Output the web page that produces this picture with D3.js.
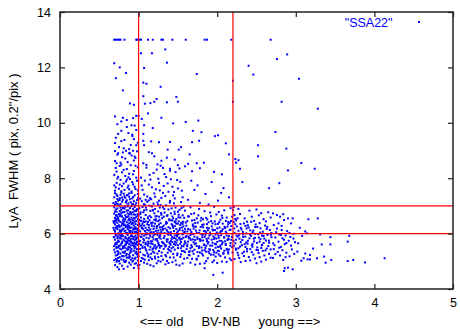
<!DOCTYPE html>
<html>
<head>
<meta charset="utf-8">
<script src="https://cdn.jsdelivr.net/npm/d3@7"></script>
<style>
  body { margin: 0; background: #fff; }
  svg { display: block; }
  text { font-family: "Liberation Sans", Arial, Helvetica, sans-serif; }
</style>
</head>
<body>
<figure id="chart" style="margin:0"></figure>
<script>
// axis ticks and cut lines
const xTicks = [0, 1, 2, 3, 4, 5];
const yTicks = [4, 6, 8, 10, 12, 14];
const cutX = [1, 2.2];
const cutY = [6, 7];
const seriesName = '"SSA22"';

// FWHM values capped at 13 (row along the top)
const cappedX = [0.69,0.71,0.73,0.75,0.77,0.82,0.97,0.98,1.01,1.03,1.12,1.18,1.29,1.31,1.43,1.60,1.84,1.87,2.18,2.68];
const cappedY = 13;

// scattered points above the main cloud
const sparseHigh = [
  [1.03,12.51],[1.17,12.51],[1.34,12.65],[0.69,12.15],[1.36,12.17],[0.76,12.00],[1.07,11.98],[0.84,11.80],[1.74,11.76],[2.40,12.06],
  [2.46,11.74],[2.76,12.30],[0.71,11.61],[1.06,11.45],[1.10,11.41],[2.20,11.52],[0.80,11.17],[1.28,11.30],[1.06,10.96],[1.48,10.93],
  [1.23,10.86],[1.50,10.76],[1.20,10.76],[1.15,10.71],[1.36,10.74],[1.08,10.69],[0.89,10.70],[0.94,10.65],[2.20,10.76],[2.89,12.47],
  [3.04,11.59],[2.82,10.76],[3.28,10.51],[1.12,10.34],[0.70,10.23],[0.80,10.18],[0.93,10.17],[0.97,10.25],[1.00,10.25],[1.04,10.14],
  [1.29,10.18],[1.44,9.98],[1.60,10.03],[1.76,10.08],[0.85,10.10],[0.78,10.05],[0.91,9.91],[1.07,9.91],[1.18,9.81],[1.69,9.71],
  [1.80,9.66],[1.97,9.52],[2.01,9.55],[0.74,9.60],[0.92,9.57],[1.06,9.60],[1.06,9.35],[1.16,9.33],[1.26,9.30],[1.40,9.31],
  [1.68,9.30],[1.77,9.35],[2.11,9.26],[2.52,9.19],[0.70,9.27],[0.78,9.34],[0.90,9.20],[0.97,9.19],[1.07,9.19],[1.13,8.94],
  [1.37,9.03],[1.51,9.03],[1.54,9.12],[1.65,8.86],[2.15,8.86],[2.52,8.79],[0.70,8.98],[0.74,8.90],[0.89,8.90],[0.93,8.99],
  [0.95,8.78],[1.17,8.90],[1.20,8.79],[1.36,8.74],[1.46,8.67],[1.29,8.63],[1.74,8.54],[1.83,8.56],[2.23,8.69],[2.27,8.65],
  [2.24,8.56],[1.06,8.54],[1.10,8.48],[1.24,8.50],[1.31,8.37],[1.40,8.34],[1.50,8.47],[1.63,8.52],[1.68,8.25],[1.78,8.36],
  [1.96,8.23],[2.06,8.14],[2.29,8.34],[2.32,7.86],[2.66,7.64],[2.74,9.67],[2.88,9.07],[3.07,8.55],[2.90,8.28],[3.24,8.34],
  [2.79,7.82]
];

// old side, left of x = 1
const leftCore = [
  [0.70,7.55],[0.72,7.83],[0.75,7.62],[0.77,7.94],[0.79,7.71],[0.82,7.58],[0.84,7.88],[0.86,7.66],[0.89,7.97],[0.91,7.52],
  [0.93,7.78],[0.96,7.61],[0.98,7.91],[0.69,7.74],[0.73,7.99],[0.78,7.53],[0.81,7.81],[0.85,7.95],[0.88,7.60],[0.92,7.86],
  [0.95,7.69],[0.99,7.56],[0.71,7.67],[0.76,7.77],[0.87,7.73],
  [0.69,8.12],[0.71,8.37],[0.74,8.05],[0.76,8.44],[0.79,8.21],[0.83,8.08],[0.85,8.33],[0.88,8.16],[0.90,8.47],[0.94,8.26],
  [0.97,8.02],[0.99,8.39],[0.72,8.24],[0.78,8.49],[0.81,8.30],[0.87,8.03],[0.93,8.14],[0.96,8.45],
  [0.70,8.62],[0.73,8.85],[0.77,8.56],[0.80,8.93],[0.83,8.71],[0.86,8.58],[0.91,8.82],[0.94,8.64],[0.98,8.97],[0.72,8.54],
  [0.79,8.76],[0.88,8.90],[0.96,8.73],[0.84,8.99],
  [0.71,9.46],[0.75,9.12],[0.78,9.71],[0.82,9.38],[0.85,9.85],[0.88,9.05],[0.92,9.52],[0.95,9.90],[0.99,9.28],[0.73,9.95],
  [0.81,9.08],[0.87,9.63],[0.94,9.41],[0.97,9.74],
  [0.70,4.86],[0.73,4.79],[0.76,4.92],[0.79,4.84],[0.83,4.97],[0.86,4.81],[0.90,4.88],[0.94,4.76],[0.97,4.93],[0.72,4.98],
  [0.81,4.73],[0.88,4.95],[0.99,4.85],[0.75,4.71],[0.92,4.99],[1.00,4.75],
  [0.69,5.04],[0.71,5.21],[0.73,5.37],[0.74,5.12],[0.76,5.46],[0.77,5.28],[0.78,5.07],[0.80,5.33],[0.81,5.18],[0.82,5.49],
  [0.84,5.02],[0.85,5.26],[0.86,5.41],[0.87,5.14],[0.89,5.31],[0.90,5.06],[0.91,5.45],[0.93,5.22],[0.94,5.38],[0.95,5.09],
  [0.96,5.29],[0.98,5.44],[0.99,5.16],[0.70,5.32],[0.72,5.48],[0.75,5.01],[0.79,5.19],[0.83,5.36],[0.88,5.24],[0.92,5.11],
  [0.97,5.35],[0.69,5.42],[0.74,5.27],[0.78,5.43],[0.81,5.05],[0.85,5.13],[0.90,5.39],[0.95,5.47],[0.99,5.03],[0.71,5.09],
  [0.76,5.15],[0.80,5.47],[0.84,5.21],[0.87,5.44],[0.93,5.02],[0.96,5.13],[0.73,5.23],[0.82,5.30],[0.89,5.17],[0.98,5.25],
  [0.69,5.55],[0.70,5.78],[0.71,5.93],[0.72,5.62],[0.73,5.84],[0.74,5.51],[0.75,5.71],[0.76,5.96],[0.77,5.58],[0.78,5.82],
  [0.79,5.67],[0.80,5.91],[0.81,5.53],[0.82,5.74],[0.83,5.88],[0.84,5.61],[0.85,5.99],[0.86,5.69],[0.87,5.52],[0.88,5.86],
  [0.89,5.73],[0.90,5.57],[0.91,5.94],[0.92,5.65],[0.93,5.81],[0.94,5.54],[0.95,5.77],[0.96,5.92],[0.97,5.63],[0.98,5.85],
  [0.99,5.59],[1.00,5.72],[0.69,5.87],[0.71,5.66],[0.72,5.97],[0.74,5.75],[0.75,5.56],[0.77,5.89],[0.78,5.64],[0.80,5.53],
  [0.81,5.79],[0.83,5.60],[0.84,5.83],[0.86,5.95],[0.87,5.76],[0.89,5.50],[0.90,5.80],[0.92,5.90],[0.93,5.58],[0.95,5.68],
  [0.96,5.51],[0.98,5.70],[0.99,5.97],[0.70,5.61],[0.73,5.69],[0.76,5.83],[0.79,5.98],[0.82,5.55],[0.85,5.66],[0.88,5.62],
  [0.91,5.71],[0.94,5.87],[0.97,5.79],[0.72,5.52],[0.78,5.93],[0.84,5.70],[0.90,5.68],[0.96,5.60],[0.74,5.90],[0.87,5.84],
  [0.86,6.02],[0.70,6.09],[0.93,6.14],[0.77,6.05],[0.99,6.31],[0.72,6.26],[0.81,6.19],[0.95,6.43],[0.69,6.38],[0.88,6.27],
  [0.75,6.46],[0.83,6.11],[0.97,6.07],[0.79,6.35],[0.91,6.22],[0.73,6.16],[0.85,6.41],[0.68,6.21],[0.94,6.29],[0.80,6.48],
  [0.76,6.12],[0.89,6.04],[0.71,6.44],[0.98,6.18],[0.84,6.24],[0.92,6.36],[0.74,6.01],[0.87,6.15],[1.00,6.40],[0.78,6.28],
  [0.70,6.33],[0.96,6.23],[0.82,6.45],[0.90,6.10],[0.73,6.39],[0.86,6.32],[0.69,6.13],[0.95,6.06],[0.80,6.17],[0.77,6.42],
  [0.93,6.47],[0.84,6.03],[0.71,6.20],[0.88,6.37],[0.99,6.12],[0.75,6.30],[0.82,6.08],[0.91,6.34],[0.97,6.45],[0.79,6.14],
  [0.72,6.49],[0.85,6.26],[0.94,6.19],[0.68,6.44],[0.87,6.48],[0.76,6.23],[0.90,6.42],[0.81,6.36],[0.98,6.02],[0.74,6.27],
  [0.96,6.35],[0.70,6.01],[0.83,6.30],[0.89,6.21],[0.92,6.05],[0.78,6.09],[0.86,6.18],[0.73,6.25],[0.95,6.16],[0.80,6.40],
  [0.74,6.53],[0.91,6.58],[0.69,6.72],[0.83,6.66],[0.97,6.81],[0.77,6.94],[0.88,6.55],[0.71,6.87],[0.94,6.69],[0.80,6.77],
  [0.86,6.98],[0.73,6.61],[0.99,6.52],[0.82,6.90],[0.90,6.74],[0.76,6.64],[0.95,6.96],[0.70,6.57],[0.85,6.83],[0.92,6.51],
  [0.78,6.86],[0.87,6.63],[0.72,6.79],[0.96,6.68],[0.81,6.55],[0.89,6.92],[0.75,6.71],[0.98,6.88],[0.84,6.59],[0.69,6.95],
  [0.93,6.77],[0.79,6.62],[0.87,6.84],[0.72,6.67],[0.95,6.54],[0.83,6.97],[0.76,6.81],[0.91,6.69],[0.70,6.80],[0.97,6.60],
  [0.86,6.73],[0.80,6.93],[0.74,6.56],[0.89,6.50],[0.93,6.89],[0.78,6.75],[0.99,6.65],[0.82,6.78],[0.71,6.52],[0.88,6.70],
  [0.95,6.82],[0.85,6.60],[0.73,6.91],[0.77,6.68],[0.91,6.99],
  [0.70,7.04],[0.84,7.12],[0.76,7.28],[0.93,7.07],[0.72,7.41],[0.88,7.33],[0.98,7.21],[0.79,7.15],[0.91,7.47],[0.74,7.19],
  [0.86,7.02],[0.69,7.31],[0.95,7.38],[0.81,7.44],[0.77,7.06],[0.89,7.24],[0.73,7.36],[0.97,7.11],[0.83,7.29],[0.71,7.14],
  [0.92,7.27],[0.78,7.48],[0.86,7.39],[0.75,7.01],[0.99,7.43],[0.80,7.22],[0.94,7.17],[0.70,7.46],[0.87,7.09],[0.82,7.35],
  [0.96,7.03],[0.73,7.25],[0.90,7.13],[0.77,7.40],[0.85,7.20],[0.68,7.10],[0.93,7.32],[0.79,7.30],[0.72,7.08],[0.88,7.45]
];

// between x = 1 and 1.6
const midCore = [
  [1.02,7.26],[1.05,7.58],[1.08,7.91],[1.11,7.34],[1.14,8.12],[1.17,7.67],[1.20,7.45],[1.23,8.31],[1.26,7.83],[1.29,7.29],
  [1.32,7.72],[1.35,8.04],[1.38,7.51],[1.41,7.96],[1.44,7.38],[1.47,8.22],[1.50,7.63],[1.53,7.87],[1.56,7.31],[1.59,8.43],
  [1.03,8.02],[1.07,7.41],[1.10,8.38],[1.13,7.77],[1.16,7.24],[1.19,8.19],[1.22,7.60],[1.25,7.98],[1.28,8.45],[1.31,7.47],
  [1.34,7.36],[1.37,7.81],[1.40,8.27],[1.43,7.69],[1.46,7.27],[1.49,7.93],[1.52,8.35],[1.55,7.55],[1.04,7.74],[1.09,7.22],
  [1.15,7.95],[1.21,7.33],[1.27,7.56],[1.33,8.15],[1.45,7.50],
  [1.01,4.87],[1.04,5.12],[1.07,4.95],[1.10,5.38],[1.13,5.04],[1.16,5.27],[1.19,4.82],[1.22,5.46],[1.25,5.15],[1.28,4.99],
  [1.02,5.33],[1.05,5.48],[1.08,5.21],[1.11,4.91],[1.14,5.42],[1.17,5.08],[1.20,5.31],[1.23,4.93],[1.26,5.37],[1.29,5.19],
  [1.03,5.01],[1.06,5.24],[1.09,5.44],[1.12,5.17],[1.15,4.86],[1.18,5.35],[1.21,5.10],[1.24,5.28],[1.27,5.49],[1.00,5.19],
  [1.11,5.29],[1.19,5.47],[1.08,5.06],[1.25,5.02],[1.15,5.14],
  [1.01,5.63],[1.03,5.88],[1.05,5.54],[1.07,5.76],[1.09,5.97],[1.11,5.61],[1.13,5.83],[1.15,5.52],[1.17,5.72],[1.19,5.94],
  [1.21,5.58],[1.23,5.80],[1.25,5.66],[1.27,5.91],[1.29,5.55],[1.02,5.74],[1.04,5.99],[1.06,5.68],[1.08,5.51],[1.10,5.85],
  [1.12,5.71],[1.14,5.96],[1.16,5.64],[1.18,5.87],[1.20,5.53],[1.22,5.78],[1.24,5.95],[1.26,5.60],[1.28,5.82],[1.30,5.70],
  [1.00,5.92],[1.06,5.81],[1.12,5.57],[1.18,5.62],[1.24,5.73],[1.09,5.67],[1.15,5.90],[1.21,5.98],[1.27,5.56],[1.03,5.59],
  [1.13,5.65],[1.19,5.79],[1.26,5.86],[1.07,5.93],[1.23,5.51],
  [1.02,6.08],[1.13,6.31],[1.24,6.02],[1.06,6.44],[1.19,6.17],[1.28,6.38],[1.09,6.21],[1.16,6.05],[1.01,6.35],[1.22,6.47],
  [1.11,6.13],[1.27,6.23],[1.04,6.19],[1.18,6.40],[1.25,6.11],[1.07,6.29],[1.14,6.48],[1.29,6.06],[1.03,6.46],[1.20,6.26],
  [1.10,6.03],[1.26,6.33],[1.15,6.15],[1.05,6.37],[1.23,6.20],[1.12,6.42],[1.00,6.12],[1.17,6.28],[1.08,6.09],[1.21,6.36],
  [1.30,6.24],[1.02,6.27],[1.14,6.01],[1.25,6.45],[1.06,6.16],[1.19,6.04],[1.11,6.34],[1.28,6.14],[1.04,6.30],[1.22,6.10],
  [1.16,6.39],[1.09,6.44],[1.27,6.01],[1.13,6.22],[1.01,6.49],
  [1.03,6.58],[1.15,6.82],[1.26,6.61],[1.08,7.04],[1.20,6.73],[1.01,6.91],[1.12,6.55],[1.24,7.12],[1.06,6.77],[1.17,6.98],
  [1.29,6.68],[1.10,6.86],[1.22,6.52],[1.04,7.17],[1.14,6.64],[1.27,6.94],[1.07,6.53],[1.19,7.08],[1.02,6.71],[1.25,6.80],
  [1.11,7.15],[1.16,6.59],[1.28,7.03],[1.09,6.67],[1.21,6.89],[1.05,6.96],[1.13,7.20],[1.23,6.63],[1.18,6.85],[1.00,6.66],
  [1.26,7.19],[1.07,6.84],[1.30,6.56],[1.14,7.01],[1.20,6.50],
  [1.31,5.06],[1.34,4.89],[1.37,5.31],[1.40,5.14],[1.43,4.97],[1.46,5.42],[1.49,5.22],[1.52,4.85],[1.55,5.37],[1.58,5.09],
  [1.32,5.45],[1.35,5.18],[1.38,4.94],[1.41,5.36],[1.44,5.27],[1.47,5.03],[1.50,5.48],[1.53,5.16],[1.56,4.92],[1.59,5.33],
  [1.36,5.01],[1.42,5.47],[1.48,4.88],[1.54,5.25],[1.39,5.40],
  [1.31,5.66],[1.33,5.91],[1.35,5.57],[1.37,5.79],[1.39,5.52],[1.41,5.95],[1.43,5.69],[1.45,5.84],[1.47,5.59],[1.49,5.76],
  [1.51,5.98],[1.53,5.63],[1.55,5.81],[1.57,5.54],[1.59,5.72],[1.32,5.84],[1.34,5.53],[1.36,5.71],[1.38,5.96],[1.40,5.64],
  [1.42,5.80],[1.44,5.51],[1.46,5.93],[1.48,5.67],[1.50,5.58],[1.52,5.86],[1.54,5.70],[1.56,5.97],[1.58,5.61],[1.60,5.88],
  [1.33,5.60],[1.37,5.99],[1.41,5.73],[1.45,5.62],[1.49,5.90],[1.53,5.78],[1.57,5.85],[1.39,5.68],[1.47,5.82],[1.55,5.55],
  [1.31,6.14],[1.36,6.38],[1.41,6.05],[1.46,6.27],[1.51,6.44],[1.56,6.11],[1.33,6.02],[1.38,6.23],[1.43,6.47],[1.48,6.16],
  [1.53,6.31],[1.58,6.04],[1.35,6.42],[1.40,6.19],[1.45,6.09],[1.50,6.36],[1.55,6.22],[1.60,6.40],[1.32,6.29],[1.37,6.07],
  [1.42,6.34],[1.47,6.45],[1.52,6.13],[1.57,6.26],[1.34,6.18],[1.39,6.48],[1.44,6.21],[1.49,6.03],[1.54,6.39],[1.59,6.17],
  [1.36,6.12],[1.43,6.30],[1.50,6.08],[1.46,6.41],[1.56,6.35],
  [1.32,6.61],[1.38,6.87],[1.44,6.55],[1.50,6.79],[1.56,6.66],[1.35,7.02],[1.41,6.73],[1.47,6.94],[1.53,6.58],[1.59,6.83],
  [1.33,6.76],[1.39,6.52],[1.45,7.09],[1.51,6.68],[1.57,6.97],[1.36,6.64],[1.42,6.91],[1.48,6.53],[1.54,7.14],[1.31,6.95],
  [1.40,7.18],[1.46,6.71],[1.52,6.86],[1.58,6.57],[1.43,6.62]
];

// between x = 1.6 and 2.2
const rightCore = [
  [1.62,5.12],[1.66,4.95],[1.70,5.27],[1.74,5.06],[1.78,4.91],[1.82,5.21],[1.86,5.01],[1.90,5.29],[1.94,4.97],[1.98,5.17],
  [2.02,5.25],[2.06,4.99],[2.10,5.14],[2.14,5.28],[2.18,5.04],[1.64,5.23],[1.68,5.09],[1.72,4.88],[1.76,5.19],[1.84,4.93],
  [1.88,5.11],[1.92,5.24],[1.96,5.03],[2.00,4.94],[2.04,5.19],[2.08,5.27],[2.12,4.98],[2.16,5.10],[1.95,4.51],[2.07,4.59],
  [1.84,4.75],
  [1.61,5.44],[1.63,5.71],[1.65,5.36],[1.67,5.58],[1.69,5.79],[1.71,5.42],[1.73,5.65],[1.75,5.33],[1.77,5.54],[1.79,5.76],
  [1.81,5.39],[1.83,5.61],[1.85,5.48],[1.87,5.73],[1.89,5.35],[1.91,5.57],[1.93,5.78],[1.95,5.41],[1.97,5.63],[1.99,5.31],
  [2.01,5.52],[2.03,5.74],[2.05,5.46],[2.07,5.68],[2.09,5.38],[2.11,5.59],[2.13,5.77],[2.15,5.43],[2.17,5.66],[2.19,5.51],
  [1.62,5.60],[1.66,5.47],[1.70,5.69],[1.74,5.55],[1.78,5.32],[1.82,5.75],[1.86,5.56],[1.90,5.44],[1.94,5.67],[1.98,5.49],
  [2.02,5.37],[2.06,5.62],[2.10,5.72],[2.14,5.34],[2.18,5.78],[1.64,5.34],[1.72,5.77],[1.80,5.50],[1.88,5.64],[1.96,5.33],
  [2.04,5.57],[2.12,5.45],[1.68,5.52],[1.84,5.40],[2.00,5.70],
  [1.61,5.92],[1.63,6.17],[1.65,5.84],[1.67,6.06],[1.69,6.27],[1.71,5.89],[1.73,6.11],[1.75,5.81],[1.77,6.02],[1.79,6.24],
  [1.81,5.87],[1.83,6.09],[1.85,5.96],[1.87,6.21],[1.89,5.83],[1.91,6.04],[1.93,6.26],[1.95,5.90],[1.97,6.13],[1.99,5.82],
  [2.01,6.00],[2.03,6.22],[2.05,5.94],[2.07,6.16],[2.09,5.86],[2.11,6.07],[2.13,6.25],[2.15,5.91],[2.17,6.14],[2.19,5.99],
  [1.62,6.08],[1.66,5.95],[1.70,6.18],[1.74,6.03],[1.78,5.80],[1.82,6.23],[1.86,6.04],[1.90,5.93],[1.94,6.15],[1.98,5.97],
  [2.02,5.85],[2.06,6.10],[2.10,6.20],[2.14,5.82],[2.18,6.27],[1.64,5.83],[1.72,6.25],[1.80,5.98],[1.88,6.12],[1.96,5.81],
  [2.04,6.05],[2.12,5.93],[1.68,6.00],[1.84,5.88],[2.00,6.19],
  [1.62,6.45],[1.67,6.71],[1.72,6.38],[1.77,6.89],[1.82,6.52],[1.87,6.34],[1.92,6.63],[1.97,6.44],[2.02,6.78],[2.07,6.36],
  [2.12,6.58],[2.17,6.92],[1.64,6.62],[1.69,6.33],[1.74,6.55],[1.79,6.47],[1.84,6.81],[1.89,6.41],[1.94,6.37],[1.99,6.69],
  [2.04,6.50],[2.09,6.84],[2.14,6.42],[2.19,6.61],[1.66,6.95],[1.76,6.66],[1.86,6.57],[1.96,6.97],[2.06,6.65],[2.16,6.39],
  [1.71,6.49],[1.81,6.31],[1.91,6.76],[2.01,6.35],[2.11,6.46],
  [1.63,7.22],[1.71,7.58],[1.78,7.11],[1.85,7.43],[1.93,7.86],[2.01,7.19],[2.08,7.64],[2.15,7.31],[1.67,7.91],[1.89,7.05],
  [2.05,7.47],[1.75,7.74],[2.21,6.42],[2.22,6.67],[2.20,6.85],[2.23,6.53],[2.21,6.96]
];

// young side, x = 2.2 to 3
const outerCore = [
  [2.22,5.08],[2.26,5.31],[2.30,4.97],[2.34,5.19],[2.38,5.36],[2.42,5.03],[2.46,5.24],[2.50,4.93],[2.54,5.15],[2.58,5.38],
  [2.62,5.06],[2.66,5.27],[2.24,5.42],[2.28,5.12],[2.32,5.29],[2.36,5.01],[2.44,5.33],[2.48,5.10],[2.52,5.40],[2.56,4.99],
  [2.60,5.21],[2.68,5.13],
  [2.21,5.56],[2.24,5.78],[2.27,5.47],[2.30,5.69],[2.33,5.88],[2.36,5.52],[2.39,5.74],[2.42,5.44],[2.45,5.63],[2.48,5.85],
  [2.51,5.50],[2.54,5.71],[2.57,5.59],[2.60,5.82],[2.63,5.46],[2.66,5.67],[2.69,5.87],[2.23,5.65],[2.26,5.89],[2.29,5.53],
  [2.32,5.77],[2.35,5.62],[2.38,5.45],[2.41,5.83],[2.44,5.58],[2.47,5.72],[2.50,5.41],[2.53,5.86],[2.56,5.48],[2.59,5.66],
  [2.62,5.75],[2.65,5.55],[2.68,5.43],[2.37,5.68],[2.55,5.80],
  [2.22,6.03],[2.25,6.26],[2.28,5.94],[2.31,6.15],[2.34,6.37],[2.37,6.01],[2.40,6.22],[2.43,5.92],[2.46,6.11],[2.49,6.33],
  [2.52,5.98],[2.55,6.19],[2.58,6.07],[2.61,6.29],[2.64,5.95],[2.67,6.13],[2.23,6.34],[2.27,6.10],[2.33,5.97],[2.39,6.30],
  [2.45,6.05],[2.51,6.24],[2.57,5.93],[2.63,6.17],[2.69,6.02],[2.30,6.21],[2.42,6.12],[2.54,6.38],[2.36,6.28],[2.48,5.99],
  [2.24,6.48],[2.29,6.71],[2.35,6.55],[2.41,6.83],[2.47,6.46],[2.53,6.66],[2.59,6.52],[2.65,6.77],[2.27,6.89],[2.38,6.43],
  [2.44,6.61],[2.50,6.87],[2.56,6.74],[2.62,6.44],[2.68,6.58],
  [2.71,6.73],[2.76,6.67],[2.80,6.61],[2.84,6.70],[2.85,6.49],[2.90,6.55],[2.94,6.37],[2.96,6.55],[2.72,6.31],[2.78,6.37],
  [2.82,6.28],[2.86,4.75],[2.90,4.77],[2.96,4.71],[2.85,4.65],[2.95,5.43],[2.71,5.12],[2.73,5.58],[2.74,5.86],[2.75,6.05],
  [2.77,5.34],[2.78,5.71],[2.79,5.97],[2.80,5.21],[2.81,5.52],[2.82,6.13],[2.83,5.83],[2.84,5.05],[2.86,5.62],[2.87,5.93],
  [2.88,5.31],[2.89,6.09],[2.91,5.74],[2.92,5.18],[2.93,5.88],[2.94,5.57],[2.97,5.99],[2.98,5.27],[2.99,5.69],[2.72,5.44],
  [2.76,6.18],[2.81,5.95],[2.85,5.78],[2.88,5.66],[2.92,6.02],[2.97,5.82],[2.74,5.26],[2.79,5.49],[2.83,5.40],[2.87,5.15]
];

// more points inside the dense cloud, read finer
const cloudFill = [
  [0.684,5.873],[0.713,6.652],[0.742,5.338],[0.758,7.212],[0.763,6.087],[0.791,5.714],[0.806,6.932],[0.817,4.987],[0.829,6.513],[0.847,5.462],
  [0.853,7.384],[0.869,6.247],[0.878,5.128],[0.896,6.781],[0.904,5.903],[0.917,7.058],[0.926,6.379],[0.938,5.641],[0.951,4.912],[0.962,6.174],
  [0.973,6.853],[0.985,5.287],[0.993,7.296],[0.697,6.458],[0.726,5.044],[0.734,7.071],[0.781,6.619],[0.799,5.186],[0.812,6.305],[0.838,7.149],
  [0.861,5.767],[0.883,6.092],[0.909,5.351],[0.944,6.566],[0.967,5.826],[0.989,6.704],
  [1.018,5.447],[1.027,6.768],[1.039,5.892],[1.046,6.214],[1.058,5.091],[1.066,7.063],[1.074,6.417],[1.087,5.613],[1.093,6.941],[1.105,5.978],
  [1.118,6.583],[1.126,5.234],[1.134,6.112],[1.147,7.282],[1.153,5.721],[1.164,6.356],[1.176,5.436],[1.183,6.834],[1.192,6.047],[1.207,5.169],
  [1.214,6.622],[1.228,5.805],[1.236,6.273],[1.247,7.041],[1.253,5.573],[1.266,6.498],[1.274,5.937],[1.287,6.741],[1.294,5.318],
  [1.308,6.173],[1.317,5.659],[1.326,6.892],[1.341,5.227],[1.349,6.354],[1.357,5.781],[1.368,6.663],[1.376,5.442],[1.384,6.027],[1.397,7.117],
  [1.408,5.596],[1.416,6.481],[1.427,5.874],[1.438,6.236],[1.446,5.138],[1.457,6.793],[1.463,5.709],[1.478,6.362],[1.486,5.951],[1.494,5.284],
  [1.507,6.587],[1.516,5.827],[1.524,6.193],[1.537,5.472],[1.545,6.918],[1.558,5.996],[1.566,6.427],[1.574,5.366],[1.588,6.071],[1.596,5.663],
  [1.607,6.286],[1.618,5.543],[1.629,6.624],[1.636,5.892],[1.648,5.217],[1.657,6.139],[1.664,5.776],[1.679,6.472],[1.686,5.361],[1.697,5.984],
  [1.706,6.731],[1.714,5.617],[1.727,6.248],[1.738,5.093],[1.746,5.862],[1.753,6.395],[1.768,5.483],[1.776,6.117],[1.784,5.739],[1.797,6.568],
  [1.806,5.276],[1.813,5.951],[1.828,6.334],[1.836,5.582],[1.847,6.083],[1.859,5.347],[1.866,5.808],[1.874,6.512],[1.887,5.694],[1.893,6.191],
  [1.908,5.416],[1.916,5.974],[1.924,6.452],[1.937,5.563],[1.946,6.116],[1.953,5.238],[1.967,5.857],[1.978,6.336],[1.986,5.611],[1.994,6.043],
  [2.009,5.381],[2.017,5.922],[2.026,6.412],[2.038,5.524],[2.047,6.084],[2.054,5.735],[2.066,6.567],[2.078,5.296],[2.086,5.864],[2.094,6.247],
  [2.107,5.621],[2.116,6.021],[2.124,5.418],[2.139,6.336],[2.146,5.795],[2.158,6.132],[2.167,5.567],[2.176,6.455],[2.188,5.882],[2.196,5.311],
  [2.207,5.734],[2.218,6.186],[2.236,5.462],[2.247,5.927],[2.259,6.552],[2.268,5.218],[2.283,5.817],[2.296,6.344],[2.314,5.583],[2.327,6.061],
  [2.343,5.347],[2.358,5.892],[2.374,6.187],[2.387,5.636],[2.403,5.153],[2.418,5.964],[2.433,6.427],[2.449,5.527],[2.466,5.816],[2.484,6.238],
  [2.507,5.664],[2.526,5.298],[2.547,6.036],[2.568,5.576],[2.589,5.912],[2.614,5.393],[2.637,6.242],[2.658,5.745],[2.683,5.958],[2.712,5.647]
];

// beyond x = 3
const tail = [
  [3.16,6.52],[3.28,6.55],[3.12,6.08],[3.14,6.01],[3.31,5.97],[3.68,5.92],[3.08,5.92],[3.44,5.87],[3.66,5.71],[3.44,5.61],
  [3.33,5.61],[3.03,5.65],[3.22,5.46],[3.12,5.28],[3.18,5.23],[3.10,5.11],[3.15,5.07],[3.18,5.07],[3.27,5.11],[3.36,5.17],
  [3.38,4.95],[3.45,5.05],[3.66,5.01],[3.73,5.05],[3.88,4.96],[4.13,5.11],[3.05,6.21],[3.02,5.35],[3.07,5.02]
];

const points = cappedX.map(v => [v, cappedY])
  .concat(sparseHigh, leftCore, midCore, rightCore, outerCore, cloudFill, tail);

const width = 460, height = 329;
const margin = {top: 12, right: 7, bottom: 40, left: 60};
const innerW = width - margin.left - margin.right;
const innerH = height - margin.top - margin.bottom;

const svg = d3.select("figure#chart")
  .append("svg")
  .attr("width", width)
  .attr("height", height);

const g = svg.append("g")
  .attr("transform", `translate(${margin.left},${margin.top})`);

const x = d3.scaleLinear().domain([0, 5]).range([0, innerW]);
const y = d3.scaleLinear().domain([4, 14]).range([innerH, 0]);

// points
g.append("g")
  .selectAll("rect")
  .data(points)
  .enter()
  .append("rect")
  .attr("x", d => x(d[0]) - 1)
  .attr("y", d => y(d[1]) - 1)
  .attr("width", 2)
  .attr("height", 2)
  .attr("fill", "#0000ff");

// cut lines
g.append("g")
  .selectAll("line")
  .data(cutX)
  .enter()
  .append("line")
  .attr("x1", d => x(d)).attr("x2", d => x(d))
  .attr("y1", 0).attr("y2", innerH)
  .attr("stroke", "#ff0000")
  .attr("stroke-width", 1.2);

g.append("g")
  .selectAll("line")
  .data(cutY)
  .enter()
  .append("line")
  .attr("x1", 0).attr("x2", innerW)
  .attr("y1", d => y(d)).attr("y2", d => y(d))
  .attr("stroke", "#ff0000")
  .attr("stroke-width", 1.2);

// axes with inward ticks, mirrored on top and right
const styleAxis = sel => {
  sel.select(".domain").remove();
  sel.selectAll(".tick line").attr("stroke", "#222").attr("stroke-width", 1.2);
  sel.selectAll(".tick text")
    .attr("fill", "#000")
    .style("font-size", "12.5px")
    .style("font-family", '"Liberation Sans", Arial, Helvetica, sans-serif');
};

g.append("g")
  .attr("transform", `translate(0,${innerH})`)
  .call(d3.axisBottom(x).tickValues(xTicks).tickFormat(d3.format("d")).tickSize(-5).tickSizeOuter(0).tickPadding(9))
  .call(styleAxis);

g.append("g")
  .call(d3.axisTop(x).tickValues(xTicks).tickFormat("").tickSize(-5).tickSizeOuter(0))
  .call(styleAxis);

g.append("g")
  .call(d3.axisLeft(y).tickValues(yTicks).tickFormat(d3.format("d")).tickSize(-5).tickSizeOuter(0).tickPadding(9))
  .call(styleAxis);

g.append("g")
  .attr("transform", `translate(${innerW},0)`)
  .call(d3.axisRight(y).tickValues(yTicks).tickFormat("").tickSize(-5).tickSizeOuter(0))
  .call(styleAxis);

// frame
g.append("rect")
  .attr("width", innerW)
  .attr("height", innerH)
  .attr("fill", "none")
  .attr("stroke", "#222")
  .attr("stroke-width", 1.5);

// axis titles
svg.append("text")
  .attr("x", 230)
  .attr("y", 326)
  .attr("text-anchor", "middle")
  .style("font-size", "13px")
  .style("white-space", "pre")
  .text("<== old     BV-NB     young ==>");

svg.append("text")
  .attr("transform", "translate(18,151) rotate(-90)")
  .attr("text-anchor", "middle")
  .style("font-size", "13px")
  .style("white-space", "pre")
  .text("LyA  FWHM ( pix, 0.2\"/pix )");

// key
svg.append("text")
  .attr("x", 392.5)
  .attr("y", 26.5)
  .attr("text-anchor", "end")
  .attr("fill", "#0000ff")
  .style("font-size", "12.5px")
  .text(seriesName);

svg.append("rect")
  .attr("x", 418)
  .attr("y", 21)
  .attr("width", 2)
  .attr("height", 2)
  .attr("fill", "#0000ff");
</script>
</body>
</html>
